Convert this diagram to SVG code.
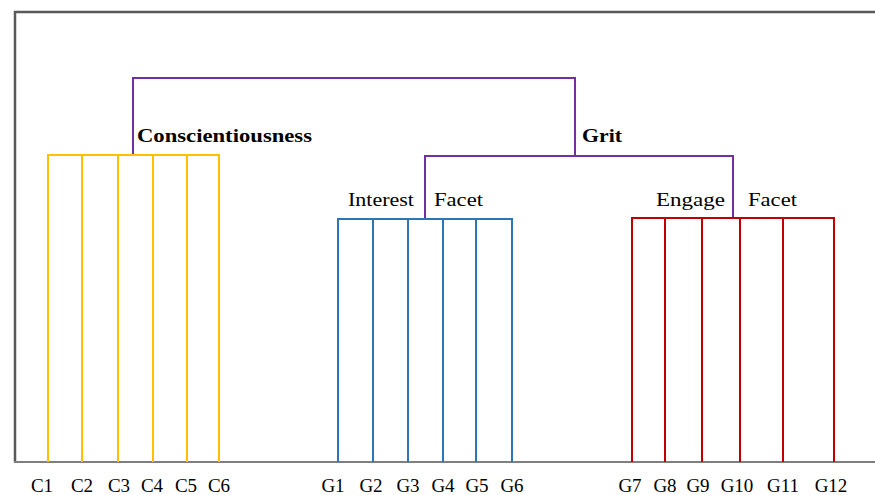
<svg xmlns="http://www.w3.org/2000/svg" width="875" height="495" viewBox="0 0 875 495">
<style>
.frame{fill:none;stroke:#595959;stroke-width:2.5}
.axis{fill:none;stroke:#7f7f7f;stroke-width:2}
.pur{fill:none;stroke:#7030A0;stroke-width:2}
.yel{fill:none;stroke:#FFC000;stroke-width:2}
.blu{fill:none;stroke:#2E75B6;stroke-width:2}
.red{fill:none;stroke:#C00000;stroke-width:2}
text{font-family:"Liberation Serif","Times New Roman",serif;font-size:19px;fill:#000}
.b{font-weight:bold}
.m{text-anchor:middle}
</style>
<rect width="875" height="495" fill="#fff"/>
<g id="frame">
<path class="frame" d="M15,462 V12 H875"/>
<path class="axis" d="M14,462 H875"/>
</g>
<g id="connectors">
<path class="pur" d="M133,155 V78 H575 V156"/>
<path class="pur" d="M425,218 V156 H733 V218"/>
</g>
<g id="conscientiousness">
<path class="yel" d="M48,462 V155 H219 V462 M82,155 V462 M118,155 V462 M153,155 V462 M187,155 V462"/>
<text class="b" x="137" y="142" textLength="175" lengthAdjust="spacingAndGlyphs">Conscientiousness</text>
</g>
<g id="grit">
<text class="b" x="582" y="142" textLength="40" lengthAdjust="spacingAndGlyphs">Grit</text>
</g>
<g id="interest">
<path class="blu" d="M338,462 V219 H512 V462 M373,219 V462 M408,219 V462 M443,219 V462 M476,219 V462"/>
<text x="348" y="206" textLength="66" lengthAdjust="spacingAndGlyphs">Interest</text>
<text x="434" y="206" textLength="49" lengthAdjust="spacingAndGlyphs">Facet</text>
</g>
<g id="engage">
<path class="red" d="M632,462 V218 H834 V462 M665,218 V462 M702,218 V462 M740,218 V462 M783,218 V462"/>
<text x="656" y="206" textLength="69" lengthAdjust="spacingAndGlyphs">Engage</text>
<text x="748" y="206" textLength="49" lengthAdjust="spacingAndGlyphs">Facet</text>
</g>
<g id="labels">
<text class="m" x="42" y="492">C1</text>
<text class="m" x="82" y="492">C2</text>
<text class="m" x="119" y="492">C3</text>
<text class="m" x="152" y="492">C4</text>
<text class="m" x="186" y="492">C5</text>
<text class="m" x="219" y="492">C6</text>
<text class="m" x="333" y="492">G1</text>
<text class="m" x="371" y="492">G2</text>
<text class="m" x="408" y="492">G3</text>
<text class="m" x="443" y="492">G4</text>
<text class="m" x="477" y="492">G5</text>
<text class="m" x="512" y="492">G6</text>
<text class="m" x="630" y="492">G7</text>
<text class="m" x="665" y="492">G8</text>
<text class="m" x="698" y="492">G9</text>
<text class="m" x="737" y="492">G10</text>
<text class="m" x="783" y="492">G11</text>
<text class="m" x="831" y="492">G12</text>
</g>
</svg>
